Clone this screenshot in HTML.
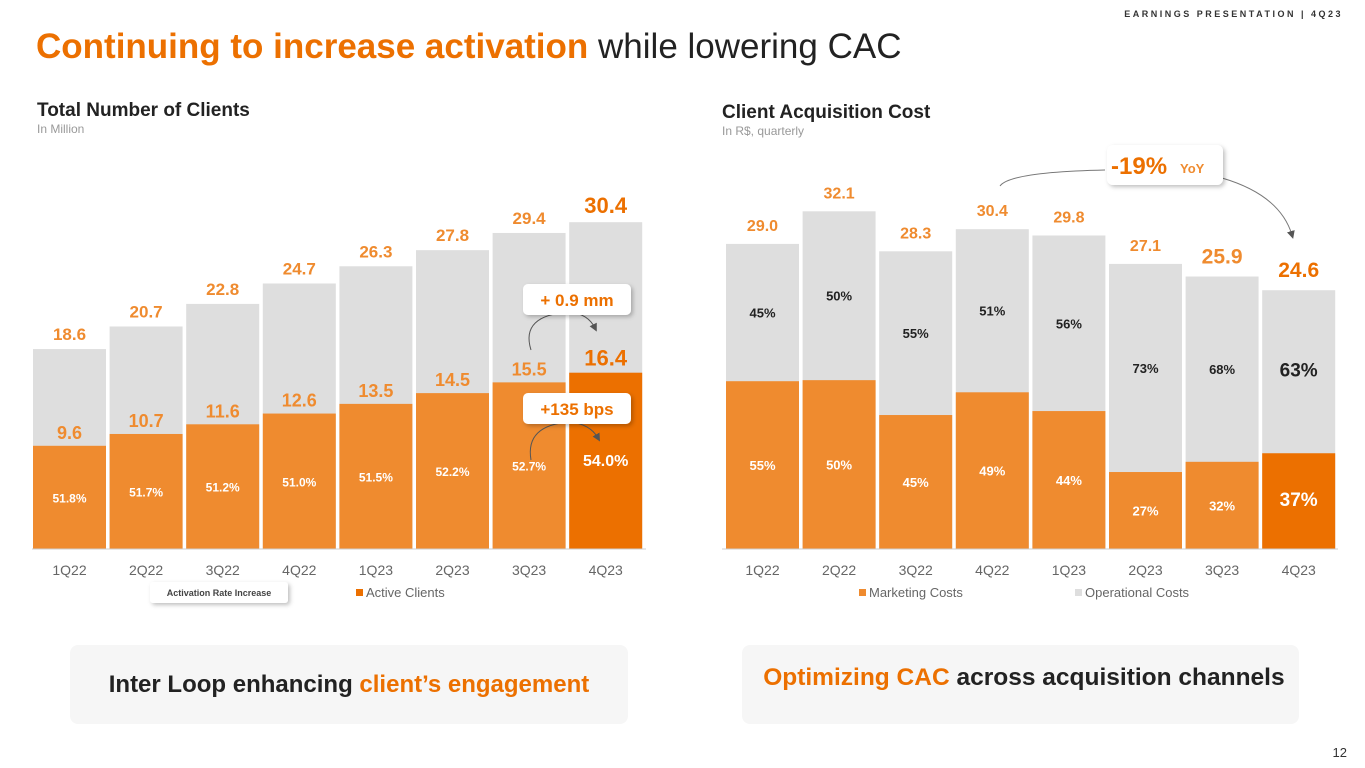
<!DOCTYPE html>
<html><head><meta charset="utf-8">
<style>
body{margin:0;width:1365px;height:768px;background:#fff;font-family:"Liberation Sans",sans-serif;overflow:hidden;position:relative}
.abs{position:absolute}
</style></head>
<body>
<div class="abs" style="right:22px;top:9px;font-size:9px;letter-spacing:2.5px;font-weight:bold;color:#333">EARNINGS PRESENTATION | 4Q23</div>
<div class="abs" style="left:36px;top:27px;font-size:35px;color:#222"><b style="color:#ec7000">Continuing to increase activation</b> while lowering CAC</div>
<div class="abs" style="left:37px;top:100px;font-size:19px;font-weight:bold;color:#222">Total Number of Clients</div>
<div class="abs" style="left:37px;top:122px;font-size:12px;color:#999">In Million</div>
<div class="abs" style="left:722px;top:102px;font-size:19px;font-weight:bold;color:#222">Client Acquisition Cost</div>
<div class="abs" style="left:722px;top:124px;font-size:12px;color:#999">In R$, quarterly</div>
<svg id="chart" class="abs" style="left:0;top:0" width="1365" height="768">
<defs><filter id="sh" x="-20%" y="-20%" width="140%" height="160%"><feDropShadow dx="2" dy="2" stdDeviation="2" flood-opacity="0.25"/></filter>
<marker id="ar" markerWidth="8" markerHeight="8" refX="4" refY="4" orient="auto"><path d="M0,0 L8,4 L0,8 z" fill="#555"/></marker></defs>
</svg>
<div class="abs" style="left:70px;top:645px;width:558px;height:79px;background:#f6f6f6;border-radius:8px;font-size:24px;font-weight:bold;color:#222;text-align:center;line-height:79px">Inter Loop enhancing <span style="color:#ec7000">client’s engagement</span></div>
<div class="abs" style="left:742px;top:645px;width:557px;height:79px;background:#f6f6f6;border-radius:8px;font-size:24.5px;font-weight:bold;color:#222;text-align:center;line-height:66px">&nbsp;<span style="color:#ec7000">Optimizing CAC</span> across acquisition channels</div>
<div class="abs" style="right:18px;top:745px;font-size:13px;color:#333">12</div>
<script>
const quarters=["1Q22","2Q22","3Q22","4Q22","1Q23","2Q23","3Q23","4Q23"];
const totalClients=[18.6,20.7,22.8,24.7,26.3,27.8,29.4,30.4];
const activeClients=[9.6,10.7,11.6,12.6,13.5,14.5,15.5,16.4];
const activationRate=["51.8%","51.7%","51.2%","51.0%","51.5%","52.2%","52.7%","54.0%"];
const cac=[29.0,32.1,28.3,30.4,29.8,27.1,25.9,24.6];
const marketingShare=[55,50,45,49,44,27,32,37];
const opsShare=[45,50,55,51,56,73,68,63];
const svg=document.getElementById('chart');
const NS="http://www.w3.org/2000/svg";
function mk(t,a,txt){const e=document.createElementNS(NS,t);for(const k in a)e.setAttribute(k,a[k]);if(txt!==undefined)e.textContent=txt;svg.appendChild(e);return e;}
const base=549,bw=73,step=76.6;
const ORG="#ef8b2f",DORG="#ec7000",GREY="#dedede";
const lx=i=>33+i*step, ly=v=>base-v*10.75;
const rx=i=>726+i*step, ry=v=>base-v*10.52;
quarters.forEach((q,i)=>{
  const last=i===7,fs=last?22:17;
  let e=mk('rect',{x:lx(i),y:ly(totalClients[i]),width:bw,height:base-ly(totalClients[i]),fill:GREY});
  
  e=mk('rect',{x:lx(i),y:ly(activeClients[i]),width:bw,height:base-ly(activeClients[i]),fill:last?DORG:ORG});
  
  e=mk('text',{x:lx(i)+bw/2,y:ly(totalClients[i])-9,'text-anchor':'middle','font-size':fs,'font-weight':'bold',fill:last?DORG:ORG},totalClients[i].toFixed(1));
  
  e=mk('text',{x:lx(i)+bw/2,y:ly(activeClients[i])-7,'text-anchor':'middle','font-size':last?22:18,'font-weight':'bold',fill:last?DORG:ORG},activeClients[i].toFixed(1));
  
  const my=(ly(activeClients[i])+base)/2;
  e=mk('text',{x:lx(i)+bw/2,y:my+5,'text-anchor':'middle','font-size':last?16:12,'font-weight':'bold',fill:'#fff'},activationRate[i]);
  
  e=mk('text',{x:lx(i)+bw/2,y:575,'text-anchor':'middle','font-size':14,fill:'#666'},q);
  
  const t=ry(cac[i]),mh=(base-t)*marketingShare[i]/100;
  e=mk('rect',{x:rx(i),y:t,width:bw,height:base-t,fill:GREY});
  
  e=mk('rect',{x:rx(i),y:base-mh,width:bw,height:mh,fill:last?DORG:ORG});
  
  const big=i>=6;
  e=mk('text',{x:rx(i)+bw/2,y:t-13,'text-anchor':'middle','font-size':big?21:16,'font-weight':'bold',fill:last?DORG:ORG},cac[i].toFixed(1));
  
  e=mk('text',{x:rx(i)+bw/2,y:(t+base-mh)/2+5,'text-anchor':'middle','font-size':last?19:13,'font-weight':'bold',fill:'#222'},opsShare[i]+'%');
  
  e=mk('text',{x:rx(i)+bw/2,y:base-mh/2+5,'text-anchor':'middle','font-size':last?19:13,'font-weight':'bold',fill:'#fff'},marketingShare[i]+'%');
  
  e=mk('text',{x:rx(i)+bw/2,y:575,'text-anchor':'middle','font-size':14,fill:'#666'},q);
  
});
let e;
e=mk('line',{x1:32,x2:646,y1:base,y2:base,stroke:'#ccc'});
e=mk('line',{x1:722,x2:1338,y1:base,y2:base,stroke:'#ccc'});
e=mk('path',{d:'M531,350 Q520,315 570,312 Q588,314 595,328',fill:'none',stroke:'#555','marker-end':'url(#ar)'});
e=mk('path',{d:'M531,460 Q525,425 570,422 Q590,424 598,438',fill:'none',stroke:'#555','marker-end':'url(#ar)'});
e=mk('rect',{x:523,y:284,width:108,height:31,rx:5,fill:'#fff',filter:'url(#sh)'});
e=mk('text',{x:577,y:306,'text-anchor':'middle','font-size':17,'font-weight':'bold',fill:DORG},'+ 0.9 mm');
e=mk('rect',{x:523,y:393,width:108,height:31,rx:5,fill:'#fff',filter:'url(#sh)'});
e=mk('text',{x:577,y:415,'text-anchor':'middle','font-size':17,'font-weight':'bold',fill:DORG},'+135 bps');
e=mk('rect',{x:150,y:582,width:138,height:21,rx:3,fill:'#fff',filter:'url(#sh)'});
e=mk('text',{x:219,y:596,'text-anchor':'middle','font-size':9,'font-weight':'bold',fill:'#444'},'Activation Rate Increase');
e=mk('rect',{x:356,y:589,width:7,height:7,fill:DORG});
e=mk('text',{x:366,y:597,'font-size':13,fill:'#666'},'Active Clients');
e=mk('path',{d:'M1000,186 Q1010,172 1105,170',fill:'none',stroke:'#777'});
e=mk('path',{d:'M1222,178 Q1280,195 1292,235',fill:'none',stroke:'#777','marker-end':'url(#ar)'});
e=mk('rect',{x:1107,y:145,width:116,height:40,rx:6,fill:'#fff',filter:'url(#sh)'});
e=mk('text',{x:1111,y:174,'font-size':24,'font-weight':'bold',fill:DORG},'-19%');
e=mk('text',{x:1180,y:173,'font-size':13,'font-weight':'bold',fill:ORG},'YoY');
e=mk('rect',{x:859,y:589,width:7,height:7,fill:ORG});
e=mk('text',{x:869,y:597,'font-size':13,fill:'#666'},'Marketing Costs');
e=mk('rect',{x:1075,y:589,width:7,height:7,fill:GREY});
e=mk('text',{x:1085,y:597,'font-size':13,fill:'#666'},'Operational Costs');
</script>
</body></html>
